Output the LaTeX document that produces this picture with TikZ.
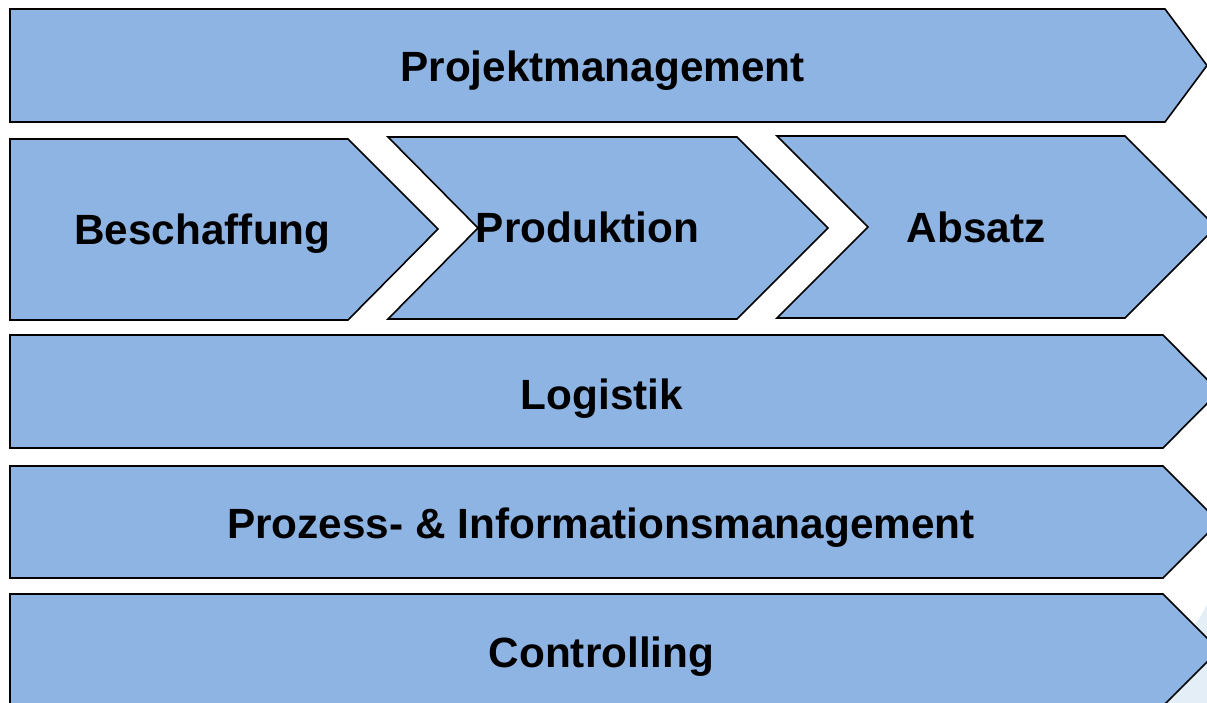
\documentclass[tikz,border=0pt]{standalone}
\usepackage{fontspec}
\setmainfont{Liberation Sans}
\usepackage{tikz}
\definecolor{barblue}{HTML}{8EB4E3}
\definecolor{slidebg}{HTML}{E4EEF6}
\begin{document}
\begin{tikzpicture}[x=1pt,y=-1pt,
    bar/.style={fill=barblue,draw=black,line width=1.6pt,line join=miter},
    lbl/.style={anchor=base,inner sep=0pt,font=\fontsize{42.3}{50}\selectfont\bfseries}]
          \useasboundingbox (0,0) rectangle (1207,703);
          \clip (0,0) rectangle (1207,703);
          \fill[slidebg] (1207,605)--(1150,703)--(1207,703)--cycle;
          % Querschnittsbalken oben
          \draw[bar] (10,9)--(1165,9)--(1207,65.5)--(1165,122)--(10,122)--cycle;
          % Kette Beschaffung - Produktion - Absatz
          \draw[bar] (10,139)--(348,139)--(438,229)--(348,320)--(10,320)--cycle;
          \draw[bar] (388,137)--(737,137)--(828,228)--(737,319)--(388,319)--(478,228)--cycle;
          \draw[bar] (777,136)--(1125,136)--(1216,227)--(1125,318)--(777,318)--(868,227)--cycle;
          % Querschnittsbalken unten
          \draw[bar] (10,335)--(1163,335)--(1219,391.5)--(1163,448)--(10,448)--cycle;
          \draw[bar] (10,466)--(1163,466)--(1219,522)--(1163,578)--(10,578)--cycle;
          \draw[bar] (10,594)--(1163,594)--(1219,650)--(1163,706)--(10,706)--cycle;
          \node[lbl] (pm) at (602.5,82) {Projektmanagement};
          \node[lbl] (besch) at (202.5,245) {Beschaffung};
          \node[lbl] (prod) at (587.5,243) {Produktion};
          \node[lbl] (abs) at (976,243) {Absatz};
          \node[lbl] (log) at (602,409) {Logistik};
          \node[lbl] (pim) at (601,538) {Prozess- \& Informationsmanagement};
          \node[lbl] (contr) at (601.5,667) {Controlling};
\end{tikzpicture}
\end{document}
